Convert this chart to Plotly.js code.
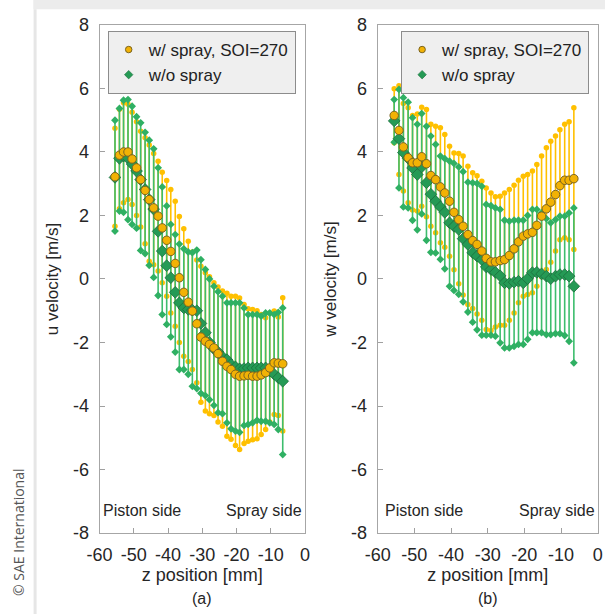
<!DOCTYPE html>
<html>
<head>
<meta charset="utf-8">
<script src="https://cdn.plot.ly/plotly-3.0.1.min.js"></script>
<style>html,body{margin:0;padding:0;background:#fff;}#chart{width:605px;height:614px;}</style>
</head>
<body>
<div id="chart"></div>
<script>
// z positions [mm]
var zPos = [-55.5,-54.2,-53.0,-51.7,-50.5,-49.2,-48.0,-46.7,-45.5,-44.2,-42.9,-41.7,-40.4,-39.2,-37.9,-36.7,-35.4,-34.1,-32.9,-31.6,-30.4,-29.1,-27.9,-26.6,-25.4,-24.1,-22.8,-21.6,-20.3,-19.1,-17.8,-16.6,-15.3,-14.0,-12.8,-11.5,-10.3,-9.0,-7.8,-6.5];

// (a) u velocity, w/ spray SOI=270
var uSprayMean = [3.22,3.9,4.0,4.0,3.78,3.5,3.13,2.79,2.5,2.24,1.98,1.61,1.22,0.87,0.49,0.04,-0.42,-0.73,-1.01,-1.41,-1.83,-1.96,-2.06,-2.17,-2.35,-2.59,-2.75,-2.85,-3.0,-3.06,-3.05,-3.03,-3.06,-3.06,-3.02,-2.95,-2.8,-2.64,-2.65,-2.67];
var uSprayHigh = [4.75,5.35,5.55,5.5,5.25,4.95,4.65,4.45,4.22,3.95,3.71,3.36,3.1,2.82,2.45,1.97,1.58,1.19,0.85,0.6,0.4,0.2,0.07,-0.12,-0.25,-0.38,-0.45,-0.54,-0.54,-0.6,-0.8,-0.94,-0.96,-1.0,-1.12,-1.22,-1.07,-1.01,-1.2,-0.59];
var uSprayLow = [1.66,2.21,2.4,2.5,2.35,2.0,1.64,1.11,0.56,0.45,0.25,-0.12,-0.54,-1.07,-1.49,-2.0,-2.43,-2.6,-2.85,-3.27,-3.88,-4.16,-4.24,-4.3,-4.5,-4.64,-4.95,-5.05,-5.24,-5.37,-5.18,-5.11,-5.06,-5.03,-4.9,-4.74,-4.5,-4.27,-4.3,-4.79];
// (a) u velocity, w/o spray
var uNoSprayMean = [3.2,3.8,3.87,3.8,3.62,3.4,3.13,2.82,2.5,2.2,1.5,0.88,0.42,0.04,-0.42,-0.75,-0.91,-0.96,-0.98,-1.0,-1.4,-1.69,-2.0,-2.2,-2.3,-2.45,-2.54,-2.69,-2.77,-2.83,-2.82,-2.8,-2.8,-2.8,-2.8,-2.8,-2.9,-3.0,-3.11,-3.22];
var uNoSprayHigh = [5.0,5.37,5.63,5.65,5.44,5.11,4.92,4.62,4.37,4.1,3.5,2.9,2.3,1.72,1.4,1.1,0.95,0.85,0.83,0.91,0.61,0.3,0.0,-0.23,-0.4,-0.54,-0.75,-0.75,-0.75,-0.75,-0.91,-1.12,-1.12,-1.12,-1.17,-1.07,-1.07,-1.12,-1.05,-0.91];
var uNoSprayLow = [1.51,2.14,2.1,1.87,1.72,1.6,0.9,0.8,0.43,0.05,-0.52,-1.12,-1.43,-1.82,-2.3,-2.85,-2.85,-3.0,-3.38,-3.45,-3.6,-3.67,-3.8,-3.98,-4.21,-4.24,-4.53,-4.72,-4.79,-4.83,-4.61,-4.58,-4.53,-4.45,-4.48,-4.48,-4.53,-4.58,-4.74,-5.53];

// (b) w velocity, w/ spray SOI=270
var wSprayMean = [5.15,4.68,4.16,3.82,3.66,3.66,3.85,3.63,3.26,3.13,2.9,2.71,2.45,2.1,1.87,1.66,1.4,1.21,1.09,0.88,0.65,0.54,0.54,0.58,0.61,0.74,0.95,1.17,1.35,1.42,1.47,1.69,1.98,2.21,2.42,2.66,2.94,3.11,3.11,3.16];
var wSprayHigh = [5.99,6.09,5.53,5.39,5.15,5.2,5.41,5.34,4.87,4.81,4.76,4.55,4.18,3.97,3.95,3.87,3.55,3.35,3.25,3.08,2.87,2.71,2.59,2.61,2.71,2.82,2.95,3.11,3.24,3.29,3.4,3.61,3.87,4.13,4.34,4.5,4.7,4.87,4.95,5.39];
var wSprayLow = [4.29,3.29,2.77,2.4,2.17,2.14,2.29,1.96,1.66,1.46,1.14,1.0,0.72,0.29,-0.15,-0.5,-0.8,-0.93,-1.1,-1.3,-1.59,-1.62,-1.51,-1.46,-1.46,-1.3,-1.07,-0.75,-0.54,-0.49,-0.43,-0.23,0.07,0.3,0.53,0.88,1.24,1.3,1.24,0.93];
// (b) w velocity, w/o spray
var wNoSprayMean = [4.98,4.42,3.98,3.8,3.5,3.29,3.53,3.03,2.67,2.45,2.27,2.1,1.77,1.66,1.56,1.27,1.09,0.83,0.72,0.61,0.38,0.3,0.21,0.1,-0.12,-0.14,-0.1,-0.07,-0.12,0.01,0.2,0.21,0.16,0.09,0.01,0.09,0.14,0.14,0.09,-0.23];
var wNoSprayHigh = [5.65,5.97,5.71,5.57,5.08,4.87,5.21,4.81,4.5,4.24,3.87,3.79,3.71,3.64,3.53,3.38,3.05,3.03,3.01,2.92,2.35,2.31,2.24,2.19,1.85,1.82,1.85,1.85,1.85,2.0,2.19,2.19,2.08,1.9,1.77,1.87,1.98,1.98,2.08,2.24];
var wNoSprayLow = [4.31,2.87,2.27,2.24,1.85,1.55,2.05,1.22,0.84,0.82,0.62,0.32,-0.23,-0.36,-0.48,-0.72,-1.04,-1.36,-1.6,-1.77,-1.77,-1.77,-1.8,-2.01,-2.17,-2.17,-2.12,-2.06,-2.06,-1.9,-1.69,-1.69,-1.69,-1.75,-1.75,-1.72,-1.72,-1.78,-1.96,-2.64];

var xTickVals = [-60,-50,-40,-30,-20,-10,0];
var xTickText = ['-60','-50','-40','-30','-20','-10','0'];
var yTickVals = [-8,-6,-4,-2,0,2,4,6,8];
var yTickText = ['-8','-6','-4','-2','0','2','4','6','8'];
var seriesNames = ['w/ spray, SOI=270','w/o spray'];
var FONT = 'Liberation Sans, Arial, sans-serif';

var ORANGE_BAR = '#FFC000', ORANGE_FILL = '#F2B205', ORANGE_EDGE = '#7a6420';
var GREEN_BAR = '#3dbd6d', GREEN_FILL = '#259a55', GREEN_EDGE = '#1c6e3c';

function diff(a, b) { return a.map(function (v, i) { return v - b[i]; }); }

function panel(xa, ya, legendId, sMean, sHi, sLo, nMean, nHi, nLo) {
  var tr = [];
  tr.push({x: zPos, y: sMean, xaxis: xa, yaxis: ya, type: 'scatter', mode: 'markers',
    marker: {size: 1, opacity: 0}, showlegend: false, hoverinfo: 'skip',
    error_y: {type: 'data', symmetric: false, array: diff(sHi, sMean), arrayminus: diff(sMean, sLo),
      color: ORANGE_BAR, thickness: 1.6, width: 0}});
  tr.push({x: zPos.concat(zPos), y: sHi.concat(sLo), xaxis: xa, yaxis: ya, type: 'scatter', mode: 'markers',
    marker: {symbol: 'circle', size: 5.5, color: ORANGE_BAR}, showlegend: false, hoverinfo: 'skip'});
  tr.push({x: zPos, y: nMean, xaxis: xa, yaxis: ya, type: 'scatter', mode: 'markers',
    marker: {size: 1, opacity: 0}, showlegend: false, hoverinfo: 'skip',
    error_y: {type: 'data', symmetric: false, array: diff(nHi, nMean), arrayminus: diff(nMean, nLo),
      color: GREEN_BAR, thickness: 1.6, width: 0}});
  tr.push({x: zPos.concat(zPos), y: nHi.concat(nLo), xaxis: xa, yaxis: ya, type: 'scatter', mode: 'markers',
    marker: {symbol: 'diamond', size: 6, color: '#2fb063'}, showlegend: false, hoverinfo: 'skip'});
  tr.push({x: zPos, y: nMean, xaxis: xa, yaxis: ya, type: 'scatter', mode: 'markers', name: seriesNames[1],
    showlegend: false,
    marker: {symbol: 'diamond', size: 9, color: GREEN_FILL, line: {color: GREEN_EDGE, width: 0.8}}});
  tr.push({x: zPos, y: sMean, xaxis: xa, yaxis: ya, type: 'scatter', mode: 'markers', name: seriesNames[0],
    showlegend: false,
    marker: {symbol: 'circle', size: 8.5, color: ORANGE_FILL, line: {color: ORANGE_EDGE, width: 1}}});
  // legend entries (small symbols, as in the original legend)
  tr.push({x: [null], y: [null], xaxis: xa, yaxis: ya, type: 'scatter', mode: 'markers', name: seriesNames[0],
    legend: legendId, legendrank: 1,
    marker: {symbol: 'circle', size: 6.5, color: ORANGE_FILL, line: {color: ORANGE_EDGE, width: 1}}});
  tr.push({x: [null], y: [null], xaxis: xa, yaxis: ya, type: 'scatter', mode: 'markers', name: seriesNames[1],
    legend: legendId, legendrank: 2,
    marker: {symbol: 'diamond', size: 6.5, color: GREEN_FILL, line: {color: GREEN_EDGE, width: 0.6}}});
  return tr;
}

var data = panel('x', 'y', 'legend', uSprayMean, uSprayHigh, uSprayLow, uNoSprayMean, uNoSprayHigh, uNoSprayLow)
  .concat(panel('x2', 'y2', 'legend2', wSprayMean, wSprayHigh, wSprayLow, wNoSprayMean, wNoSprayHigh, wNoSprayLow));

function xaxisDef(domain, anchor) {
  return {domain: domain, anchor: anchor, range: [-60, 0], tickvals: xTickVals, ticktext: xTickText,
    ticks: 'inside', ticklen: 5,
    tickcolor: '#a0a0a0', showgrid: false, zeroline: false, showline: true, mirror: true,
    linecolor: '#a6a6a6', linewidth: 1, tickfont: {family: FONT, size: 18, color: '#262626'},
    ticklabelstandoff: 5,
    title: {text: 'z position [mm]', font: {family: FONT, size: 18, color: '#262626'}, standoff: 3}};
}
function yaxisDef(anchor, title) {
  return {domain: [0.1319, 0.9593], anchor: anchor, range: [-8, 8], tickvals: yTickVals, ticktext: yTickText,
    ticks: 'inside',
    ticklen: 5, tickcolor: '#a0a0a0', showgrid: false, zeroline: false, showline: true, mirror: true,
    linecolor: '#a6a6a6', linewidth: 1, tickfont: {family: FONT, size: 18, color: '#262626'},
    ticklabelstandoff: 6,
    title: {text: title, font: {family: FONT, size: 17, color: '#262626'}, standoff: 10}};
}

var legendBase = {bgcolor: '#efefef', bordercolor: '#8c8c8c', borderwidth: 1,
  font: {family: FONT, size: 17, color: '#222'}, xanchor: 'left', yanchor: 'top', itemwidth: 30,
  tracegroupgap: 0, traceorder: 'normal'};

var layout = {
  width: 605, height: 614, margin: {l: 0, r: 0, t: 0, b: 0},
  paper_bgcolor: '#ffffff', plot_bgcolor: '#ffffff', showlegend: true,
  font: {family: FONT},
  xaxis: xaxisDef([0.1646, 0.5041], 'y'),
  yaxis: yaxisDef('x', 'u velocity [m/s]'),
  xaxis2: xaxisDef([0.6243, 0.9879], 'y2'),
  yaxis2: yaxisDef('x2', 'w velocity [m/s]'),
  legend: Object.assign({}, legendBase, {x: 0.178, y: 0.9495}),
  legend2: Object.assign({}, legendBase, {x: 0.663, y: 0.9495}),
  shapes: [
    {type: 'rect', xref: 'paper', yref: 'paper', x0: 0.055, x1: 1, y0: 0.985, y1: 1,
      fillcolor: '#ececec', line: {width: 0}, layer: 'below'},
    {type: 'line', xref: 'paper', yref: 'paper', x0: 0.058, x1: 0.058, y0: 0, y1: 0.985,
      line: {color: '#e6e6e6', width: 3}, layer: 'below'}
  ],
  annotations: [
    {text: 'Piston side', xref: 'x domain', yref: 'y domain', x: 0.005, y: 0.045, xanchor: 'left', yanchor: 'middle',
      showarrow: false, font: {family: FONT, size: 16, color: '#262626'}},
    {text: 'Spray side', xref: 'x domain', yref: 'y domain', x: 0.995, y: 0.045, xanchor: 'right', yanchor: 'middle',
      showarrow: false, font: {family: FONT, size: 16, color: '#262626'}},
    {text: 'Piston side', xref: 'x2 domain', yref: 'y2 domain', x: 0.025, y: 0.045, xanchor: 'left', yanchor: 'middle',
      showarrow: false, font: {family: FONT, size: 16, color: '#262626'}},
    {text: 'Spray side', xref: 'x2 domain', yref: 'y2 domain', x: 0.995, y: 0.045, xanchor: 'right', yanchor: 'middle',
      showarrow: false, font: {family: FONT, size: 16, color: '#262626'}},
    {text: '(a)', xref: 'x domain', yref: 'paper', x: 0.5, y: 1 - 598 / 614, xanchor: 'center', yanchor: 'middle',
      showarrow: false, font: {family: FONT, size: 16, color: '#262626'}},
    {text: '(b)', xref: 'x2 domain', yref: 'paper', x: 0.5, y: 1 - 598 / 614, xanchor: 'center', yanchor: 'middle',
      showarrow: false, font: {family: FONT, size: 16, color: '#262626'}},
    {text: '© SAE International', xref: 'paper', yref: 'paper', x: 18 / 605, y: 1 - 532 / 614, textangle: -90,
      xanchor: 'center', yanchor: 'middle', showarrow: false,
      font: {family: 'Open Sans, Noto Sans, sans-serif', size: 14, color: '#555'}}
  ]
};

Plotly.newPlot('chart', data, layout, {staticPlot: true, displayModeBar: false});
</script>
</body>
</html>
